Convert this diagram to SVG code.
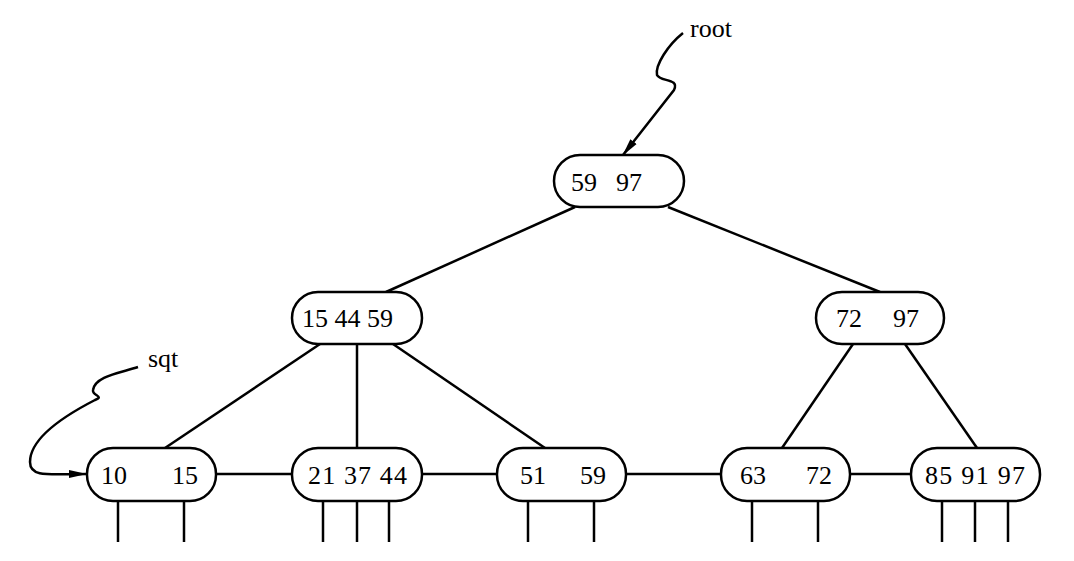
<svg xmlns="http://www.w3.org/2000/svg" width="1074" height="561" viewBox="0 0 1074 561">
<style>
.n{fill:#fff;stroke:#000;stroke-width:2.5}
.t{font-family:"Liberation Serif",serif;font-size:26px;fill:#000}
.c line,.c path{stroke:#000;stroke-width:2.5;fill:none}
</style>
<defs><marker id="a" viewBox="0 0 10 10" refX="9" refY="5" markerWidth="8" markerHeight="8" markerUnits="userSpaceOnUse" orient="auto"><path d="M0,1.5L10,5L0,8.5z" fill="#000" stroke="none" transform="scale(1)"/></marker>
<marker id="b" viewBox="0 0 18 10" refX="17" refY="5" markerWidth="18" markerHeight="10" markerUnits="userSpaceOnUse" orient="auto"><path d="M0,1L18,5L0,9z" fill="#000"/></marker></defs>
<rect width="1074" height="561" fill="#fff"/>
<g class="c">
<line x1="575" y1="207" x2="386" y2="292"/><line x1="668" y1="207" x2="880" y2="292"/>
<line x1="320" y1="344" x2="165" y2="448"/><line x1="357" y1="344" x2="357" y2="448"/><line x1="393" y1="344" x2="545" y2="448"/>
<line x1="853" y1="344" x2="782" y2="448"/><line x1="905" y1="344" x2="977" y2="448"/>
<line x1="216" y1="474" x2="292" y2="474"/><line x1="422" y1="474" x2="497" y2="474"/><line x1="626" y1="474" x2="721" y2="474"/><line x1="850" y1="474" x2="911" y2="474"/>
<line x1="118" y1="501" x2="118" y2="542"/><line x1="184" y1="501" x2="184" y2="542"/>
<line x1="323" y1="501" x2="323" y2="542"/><line x1="357" y1="501" x2="357" y2="542"/><line x1="389" y1="501" x2="389" y2="542"/>
<line x1="528" y1="501" x2="528" y2="542"/><line x1="594" y1="501" x2="594" y2="542"/>
<line x1="752" y1="501" x2="752" y2="542"/><line x1="818" y1="501" x2="818" y2="542"/>
<line x1="942" y1="501" x2="942" y2="542"/><line x1="975" y1="501" x2="975" y2="542"/><line x1="1008" y1="501" x2="1008" y2="542"/>
<path d="M683,33 C668,45 655,65 657,75 C660,82 680,78 674,90 L623,155" marker-end="url(#b)"/>
<path d="M138,367 C120,373 95,376 93,390 C92,396 105,396 95,400 C60,418 30,440 30,462 C30,478 50,474 86,474" marker-end="url(#b)"/>
</g>
<text class="t" x="690" y="37">root</text>
<text class="t" x="148" y="367">sqt</text>
<g id="root"><rect class="n" x="554" y="155" width="130" height="52" rx="26"/><text class="t" x="571" y="191">59</text><text class="t" x="616" y="191">97</text></g>
<g id="n1"><rect class="n" x="292" y="292" width="130" height="52" rx="26"/><text class="t" x="302" y="327">15 44 59</text></g>
<g id="n2"><rect class="n" x="816" y="292" width="128" height="52" rx="26"/><text class="t" x="836" y="327">72</text><text class="t" x="893" y="327">97</text></g>
<g id="l1"><rect class="n" x="87" y="448" width="129" height="53" rx="26"/><text class="t" x="101" y="484">10</text><text class="t" x="172" y="484">15</text></g>
<g id="l2"><rect class="n" x="292" y="448" width="130" height="53" rx="26"/><text class="t" x="308" y="484" textLength="99" lengthAdjust="spacing">21 37 44</text></g>
<g id="l3"><rect class="n" x="497" y="448" width="129" height="53" rx="26"/><text class="t" x="520" y="484">51</text><text class="t" x="580" y="484">59</text></g>
<g id="l4"><rect class="n" x="721" y="448" width="129" height="53" rx="26"/><text class="t" x="740" y="484">63</text><text class="t" x="806" y="484">72</text></g>
<g id="l5"><rect class="n" x="911" y="448" width="129" height="53" rx="26"/><text class="t" x="925" y="484" textLength="100" lengthAdjust="spacing">85 91 97</text></g>
</svg>
